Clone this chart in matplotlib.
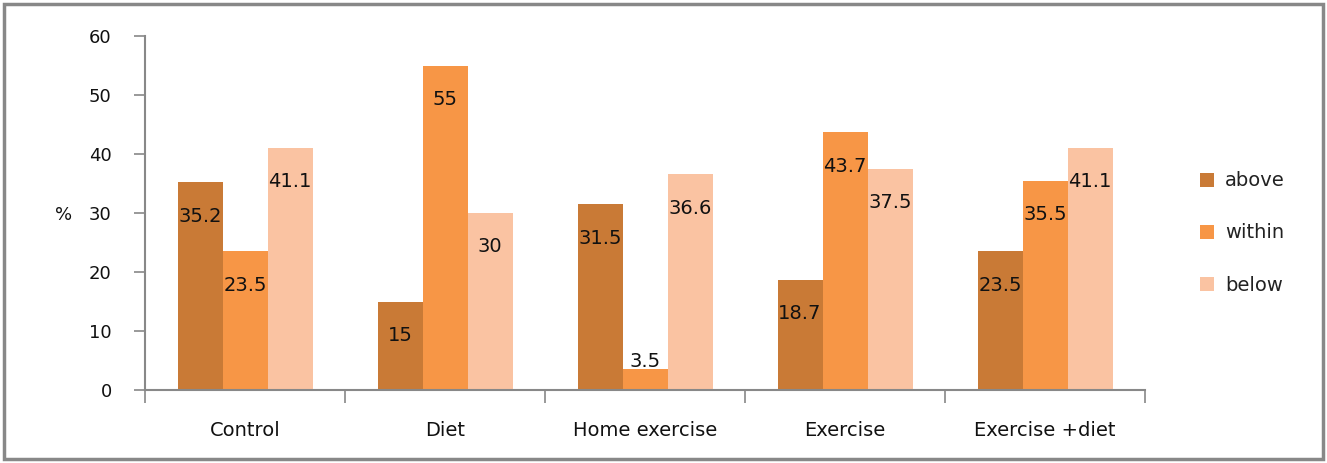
import matplotlib
matplotlib.use("Agg")
import matplotlib.pyplot as plt
from matplotlib.patches import Rectangle, Patch
import numpy as np

plt.rcParams["font.family"] = ["DejaVu Sans"]

categories = ["Control", "Diet", "Home exercise", "Exercise", "Exercise +diet"]
above = [35.2, 15, 31.5, 18.7, 23.5]
within = [23.5, 55, 3.5, 43.7, 35.5]
below = [41.1, 30, 36.6, 37.5, 41.1]
series_names = ["above", "within", "below"]
colors = ["#C97A36", "#F79646", "#FAC3A2"]

W, H = 1327, 463
fig = plt.figure(figsize=(W / 100, H / 100), dpi=100)
ax = fig.add_axes([145 / W, (H - 390) / H, 1000 / W, (390 - 36) / H])

x = np.arange(len(categories))
bw = 0.225
px2pt = 72 / 100
for i, (vals, col) in enumerate(zip([above, within, below], colors)):
    xs = x + (i - 1) * bw
    ax.bar(xs, vals, width=bw, color=col, edgecolor="none", zorder=2)
    for xi, v in zip(xs, vals):
        off = 8 if v < 8 else -34
        ax.annotate(f"{v:g}", (xi, v), xytext=(0, off * px2pt), textcoords="offset points",
                    ha="center", va="center", fontsize=14, color="#111111", zorder=3)

ax.set_xlim(-0.5, 4.5)
ax.set_ylim(0, 60)
ax.set_yticks(range(0, 61, 10))
ax.set_xticks(x)
ax.set_xticklabels(categories)
ax.set_xticks(np.arange(-0.5, 4.6, 1), minor=True)
ax.tick_params(axis="x", which="major", length=0, pad=22, labelsize=14, colors="#111111")
ax.tick_params(axis="x", which="minor", length=9, width=1.2, color="#888888", direction="out")
ax.tick_params(axis="y", length=8, width=1.2, color="#888888", pad=16, labelsize=13, labelcolor="#111111")

for s in ["top", "right"]:
    ax.spines[s].set_visible(False)
for s in ["left", "bottom"]:
    ax.spines[s].set_color("#888888")
    ax.spines[s].set_linewidth(1.5)

fig.text(64 / W, 1 - 215 / H, "%", ha="center", va="center", fontsize=13, color="#111111")

handles = [Patch(facecolor=c, edgecolor="none") for c in colors]
leg = fig.legend(handles, series_names, loc="center left", bbox_to_anchor=(1182 / W, 1 - 233 / H),
                 frameon=False, fontsize=14, handlelength=0.75, handleheight=0.75,
                 labelspacing=1.7, handletextpad=0.55, labelcolor="#222222")

fig.patches.append(Rectangle((4 / W, 4 / H), 1 - 8 / W, 1 - 8 / H, transform=fig.transFigure,
                             fill=False, edgecolor="#888888", linewidth=2.5))

fig.savefig("out.png", dpi=100)
